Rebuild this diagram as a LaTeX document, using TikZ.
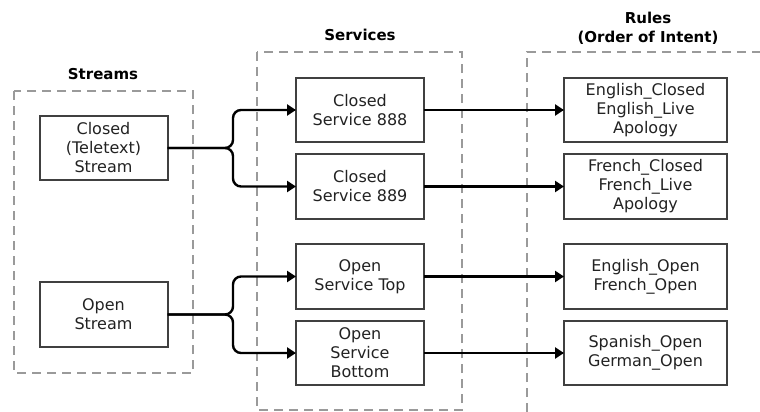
\documentclass[tikz,border=0pt]{standalone}
\usepackage{fontspec}
\setmainfont{DejaVu Sans}
\usetikzlibrary{arrows.meta}
\definecolor{boxline}{HTML}{404040}
\definecolor{dashgray}{HTML}{9A9A9A}
\definecolor{txt}{HTML}{222222}
\tikzset{
  groupbox/.style={draw=dashgray, line width=1.8pt, dash pattern=on 9pt off 6pt},
  itembox/.style={draw=boxline, line width=2pt, inner sep=0pt, outer sep=0pt,
    minimum width=128pt, minimum height=64pt, align=center, text=txt,
    font=\fontsize{16}{19}\selectfont},
  rulebox/.style={itembox, minimum width=163pt},
  title/.style={font=\fontsize{15}{19}\selectfont\bfseries, text=black, align=center, inner sep=0pt},
  flow/.style={draw=black, line width=2.4pt, -{Triangle[length=9pt,width=11pt]}, rounded corners=8pt}
}
\begin{document}
\begin{tikzpicture}[x=1pt,y=-1pt]
\useasboundingbox (0,0) rectangle (760,412);
% group frames
\draw[groupbox] (14,91) rectangle (193,373);
\draw[groupbox] (257,52) rectangle (462,410);
\draw[groupbox] (527,412) -- (527,52) -- (760,52);
% titles
\node[title] (tstreams) at (103,74) {Streams};
\node[title] (tservices) at (360,35) {Services};
\node[title] (trules) at (648,28) {Rules\\(Order of Intent)};
% streams
\node[itembox] (cstream) at (103.5,148) {Closed\\(Teletext)\\Stream};
\node[itembox, minimum height=65pt] (ostream) at (103.5,314.5) {Open\\Stream};
% services
\node[itembox] (s888) at (360,110) {Closed\\Service 888};
\node[itembox, minimum height=65pt] (s889) at (360,186.5) {Closed\\Service 889};
\node[itembox, minimum height=65pt] (stop) at (360,276.5) {Open\\Service Top};
\node[itembox] (sbot) at (360,353) {Open\\Service\\Bottom};
% rules
\node[rulebox] (r1) at (645.5,110) {English\_Closed\\English\_Live\\Apology};
\node[rulebox, minimum height=65pt] (r2) at (645.5,186.5) {French\_Closed\\French\_Live\\Apology};
\node[rulebox, minimum height=65pt] (r3) at (645.5,276.5) {English\_Open\\French\_Open};
\node[rulebox] (r4) at (645.5,353) {Spanish\_Open\\German\_Open};
% branch points
\coordinate (bc) at (233,148);
\coordinate (bo) at (233,314.5);
% connectors
\draw[flow] (cstream.east) -- (bc) |- (s888.west);
\draw[flow] (cstream.east) -- (bc) |- (s889.west);
\draw[flow] (ostream.east) -- (bo) |- (stop.west);
\draw[flow] (ostream.east) -- (bo) |- (sbot.west);
\draw[flow] (s888.east) -- (r1.west);
\draw[flow] (s889.east) -- (r2.west);
\draw[flow] (stop.east) -- (r3.west);
\draw[flow] (sbot.east) -- (r4.west);
\end{tikzpicture}
\end{document}
